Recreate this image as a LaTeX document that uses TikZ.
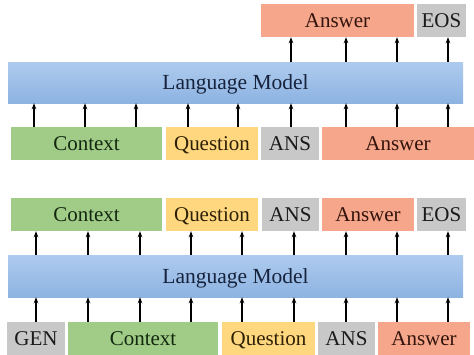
\documentclass[tikz,border=0pt]{standalone}
\usepackage{fontspec}
\setmainfont{Liberation Serif}
\usetikzlibrary{arrows.meta}
\definecolor{cgreen}{HTML}{A0CC88}
\definecolor{cyellow}{HTML}{FFD77F}
\definecolor{cgrey}{HTML}{C8C8C8}
\definecolor{csalmon}{HTML}{F6A68A}
\definecolor{cbluetop}{HTML}{AECBEE}
\definecolor{cbluebot}{HTML}{8DB3E2}
\definecolor{tgreen}{HTML}{142810}
\definecolor{tbrown}{HTML}{2E2006}
\definecolor{tred}{HTML}{33140C}
\definecolor{tgrey}{HTML}{1A1A1A}
\definecolor{tblue}{HTML}{17233C}
\tikzset{
  tok/.style={inner sep=0pt, minimum height=33pt, text height=14pt, text depth=0pt,
    font=\rmfamily\fontsize{21}{23}\selectfont, anchor=center},
  ctxbox/.style={tok, fill=cgreen, text=tgreen},
  qbox/.style={tok, fill=cyellow, text=tbrown},
  gbox/.style={tok, fill=cgrey, text=tgrey},
  abox/.style={tok, fill=csalmon, text=tred},
  lmbox/.style={inner sep=0pt, minimum width=455pt, minimum height=41pt, text height=14.2pt, text depth=0pt,
    top color=cbluetop, bottom color=cbluebot, text=tblue, font=\rmfamily\fontsize{21.5}{23}\selectfont},
  arr/.style={line width=1.3pt, -{Stealth[length=6pt,width=4.5pt]}}
}
\begin{document}
\begin{tikzpicture}[x=1pt,y=-1pt]
\useasboundingbox (0,0) rectangle (474,354);
% ---------- top section ----------
\node[abox, minimum width=153pt] (ansT) at (337.5,20.5) {Answer};
\node[gbox, minimum width=49pt] (eosT) at (441.5,20.5) {EOS};
\node[lmbox] (lm1) at (235.5,82.5) {Language Model};
\node[ctxbox, minimum width=151pt] (ctx1) at (86.5,143.5) {Context};
\node[qbox, minimum width=92pt] (q1) at (212,143.5) {Question};
\node[gbox, minimum width=58pt] (ans1) at (290,143.5) {ANS};
\node[abox, minimum width=152pt] (answer1) at (398,143.5) {Answer};
\foreach \n/\x in {a1/34,a2/85,a3/136,a4/188,a5/238,a6/291,a7/346,a8/397,a9/448}
  \coordinate (\n) at (\x,0);
\draw[arr] (ctx1.north -| a1) -- (lm1.south -| a1);
\draw[arr] (ctx1.north -| a2) -- (lm1.south -| a2);
\draw[arr] (ctx1.north -| a3) -- (lm1.south -| a3);
\draw[arr] (q1.north -| a4) -- (lm1.south -| a4);
\draw[arr] (q1.north -| a5) -- (lm1.south -| a5);
\draw[arr] (ans1.north -| a6) -- (lm1.south -| a6);
\draw[arr] (answer1.north -| a7) -- (lm1.south -| a7);
\draw[arr] (answer1.north -| a8) -- (lm1.south -| a8);
\draw[arr] (answer1.north -| a9) -- (lm1.south -| a9);
\draw[arr] (lm1.north -| a6) -- (ansT.south -| a6);
\draw[arr] (lm1.north -| a7) -- (ansT.south -| a7);
\draw[arr] (lm1.north -| a8) -- (ansT.south -| a8);
\draw[arr] (lm1.north -| a9) -- (eosT.south -| a9);
% ---------- bottom section ----------
\node[ctxbox, minimum width=151pt] (ctx2) at (86.5,214.5) {Context};
\node[qbox, minimum width=92pt] (q2) at (212,214.5) {Question};
\node[gbox, minimum width=57pt] (ans2) at (290.5,214.5) {ANS};
\node[abox, minimum width=92pt] (answer2) at (368,214.5) {Answer};
\node[gbox, minimum width=49pt] (eos2) at (441.5,214.5) {EOS};
\node[lmbox, minimum height=42pt] (lm2) at (235.5,276) {Language Model};
\node[gbox, minimum width=58pt] (gen) at (36,338.5) {GEN};
\node[ctxbox, minimum width=150pt] (ctx3) at (143,338.5) {Context};
\node[qbox, minimum width=93pt] (q3) at (268.5,338.5) {Question};
\node[gbox, minimum width=57pt] (ans3) at (346.5,338.5) {ANS};
\node[abox, minimum width=92pt] (answer3) at (424,338.5) {Answer};
\foreach \n/\x in {b1/36,b2/88,b3/140,b4/191,b5/242,b6/294,b7/346,b8/397,b9/448}
  \coordinate (\n) at (\x,0);
\draw[arr] (lm2.north -| b1) -- (ctx2.south -| b1);
\draw[arr] (lm2.north -| b2) -- (ctx2.south -| b2);
\draw[arr] (lm2.north -| b3) -- (ctx2.south -| b3);
\draw[arr] (lm2.north -| b4) -- (q2.south -| b4);
\draw[arr] (lm2.north -| b5) -- (q2.south -| b5);
\draw[arr] (lm2.north -| b6) -- (ans2.south -| b6);
\draw[arr] (lm2.north -| b7) -- (answer2.south -| b7);
\draw[arr] (lm2.north -| b8) -- (answer2.south -| b8);
\draw[arr] (lm2.north -| b9) -- (eos2.south -| b9);
\draw[arr] (gen.north -| b1) -- (lm2.south -| b1);
\draw[arr] (ctx3.north -| b2) -- (lm2.south -| b2);
\draw[arr] (ctx3.north -| b3) -- (lm2.south -| b3);
\draw[arr] (ctx3.north -| b4) -- (lm2.south -| b4);
\draw[arr] (q3.north -| b5) -- (lm2.south -| b5);
\draw[arr] (q3.north -| b6) -- (lm2.south -| b6);
\draw[arr] (ans3.north -| b7) -- (lm2.south -| b7);
\draw[arr] (answer3.north -| b8) -- (lm2.south -| b8);
\draw[arr] (answer3.north -| b9) -- (lm2.south -| b9);
\end{tikzpicture}
\end{document}
